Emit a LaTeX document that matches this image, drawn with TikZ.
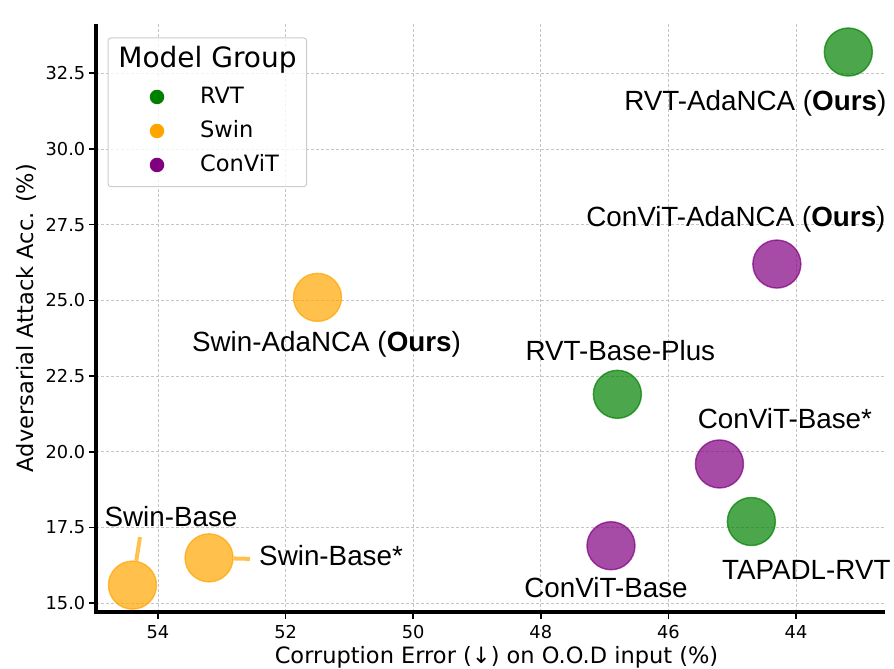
\documentclass[tikz,border=0pt]{standalone}
\usepackage{fontspec}
\setmainfont{DejaVu Sans}
\newfontfamily\lblfont{Liberation Sans}
\usetikzlibrary{positioning, calc}
\definecolor{rvtgreen}{HTML}{008000}
\definecolor{swinorange}{HTML}{FFA500}
\definecolor{convitpurple}{HTML}{800080}
\definecolor{gridgray}{HTML}{C4C4C4}
\definecolor{legframe}{HTML}{CCCCCC}
\tikzset{
  scatterdot/.style={
    circle, minimum size=48pt, inner sep=0pt,
    line width=1.4pt, fill opacity=0.7, draw opacity=0.7
  },
  rvtdot/.style={scatterdot, draw=rvtgreen, fill=rvtgreen},
  swindot/.style={scatterdot, draw=swinorange, fill=swinorange},
  convitdot/.style={scatterdot, draw=convitpurple, fill=convitpurple},
  ptlabel/.style={font=\lblfont\fontsize{27.8}{33}\selectfont, inner sep=0pt, anchor=base},
  ticklabel/.style={font=\fontsize{17.8}{21}\selectfont, inner sep=0pt},
  axislabel/.style={font=\fontsize{22.5}{27}\selectfont, inner sep=0pt, anchor=base},
  legtitle/.style={font=\fontsize{28}{33}\selectfont, inner sep=0pt, anchor=base},
  legentry/.style={font=\fontsize{22.5}{27}\selectfont, inner sep=0pt, anchor=base west},
  legmark/.style={circle, minimum size=14.5pt, inner sep=0pt},
  gridline/.style={draw=gridgray, line width=0.8pt, dash pattern=on 3pt off 2pt},
  leader/.style={draw=swinorange, draw opacity=0.7, line width=4pt},
  spine/.style={line width=3.3pt, black},
  tickmark/.style={line width=1.6pt, black},
}

\begin{document}
\begin{tikzpicture}[x=1pt, y=1pt]
  \useasboundingbox (0,0) rectangle (894,669);

  % data frame: x reversed (error), y = attack accuracy
  \begin{scope}[shift={(3603.2pt,-388.65pt)}, x=-63.8pt, y=30.29pt]
    \foreach \xv in {54,52,...,44}
      \draw[gridline] (\xv,14.713) -- (\xv,34.125);
    \foreach \yv in {15,17.5,...,32.5}
      \draw[gridline] (54.97,\yv) -- (42.605,\yv);

    \foreach \xv in {54,52,...,44} {
      \draw[tickmark] (\xv,14.713) -- (\xv,14.48);
      \node[ticklabel, anchor=base] (xt\xv) at (\xv,13.854) {\xv};
    }
    \foreach \yv/\ytxt [count=\i] in {15/15.0, 17.5/17.5, 20/20.0, 22.5/22.5, 25/25.0, 27.5/27.5, 30/30.0, 32.5/32.5} {
      \draw[tickmark] (54.97,\yv) -- (55.08,\yv);
      \node[ticklabel, anchor=east] (yt\i) at (55.137,\yv) {\ytxt};
    }

    % scatter points
    \node[rvtdot] (p-rvt-ada) at (43.18,33.2) {};
    \node[convitdot] (p-convit-ada) at (44.3,26.2) {};
    \node[swindot] (p-swin-ada) at (51.5,25.1) {};
    \node[rvtdot] (p-rvt-plus) at (46.8,21.9) {};
    \node[convitdot] (p-convit-star) at (45.2,19.6) {};
    \node[rvtdot] (p-tapadl) at (44.7,17.7) {};
    \node[convitdot] (p-convit-base) at (46.9,16.9) {};
    \node[swindot] (p-swin-base) at (54.4,15.6) {};
    \node[swindot] (p-swin-star) at (53.2,16.5) {};
  \end{scope}

  % axes
  \draw[spine] (96,645) -- (96,57) -- (885,57);

  % point labels
  \node[ptlabel] (l-rvt-ada) at ($(p-rvt-ada)+(-93,-58)$) {RVT-AdaNCA (\textbf{Ours})};
  \node[ptlabel] (l-convit-ada) at ($(p-convit-ada)+(-41,38)$) {ConViT-AdaNCA (\textbf{Ours})};
  \node[ptlabel] (l-swin-ada) at ($(p-swin-ada)+(9,-54)$) {Swin-AdaNCA (\textbf{Ours})};
  \node[ptlabel] (l-rvt-plus) at ($(p-rvt-plus)+(3,34)$) {RVT-Base-Plus};
  \node[ptlabel] (l-convit-star) at ($(p-convit-star)+(65.5,35)$) {ConViT-Base*};
  \node[ptlabel] (l-tapadl) at ($(p-tapadl)+(55,-58)$) {TAPADL-RVT};
  \node[ptlabel] (l-convit-base) at ($(p-convit-base)+(-5,-52)$) {ConViT-Base};
  \node[ptlabel] (l-swin-base) at ($(p-swin-base)+(38.5,59)$) {Swin-Base};
  \node[ptlabel, anchor=base west] (l-swin-star) at ($(p-swin-star)+(50,-8)$) {Swin-Base*};

  \draw[leader] ($(l-swin-base.base)+(-31,-11)$) -- (p-swin-base);
  \draw[leader] (p-swin-star) -- ($(l-swin-star.base west)+(-9,7)$);

  % axis titles
  \node[axislabel] (xlabel) at (496.5,5.5) {Corruption Error (↓) on O.O.D input (\%)};
  \node[axislabel, rotate=90] (ylabel) at (33,351) {Adversarial Attack Acc. (\%)};

  % legend
  \draw[draw=legframe, line width=1pt, fill=white, fill opacity=0.8, rounded corners=3pt]
    (108,482.3) rectangle (306.7,631);
  \node[legtitle] (leg-title) at (207.5,601) {Model Group};
  \foreach \nm/\col/\yy in {RVT/rvtgreen/572, Swin/swinorange/538, ConViT/convitpurple/504} {
    \node[legmark, fill=\col] (lm-\nm) at (157,\yy) {};
    \node[legentry] (le-\nm) at (200,\yy-7) {\nm};
  }
\end{tikzpicture}
\end{document}
